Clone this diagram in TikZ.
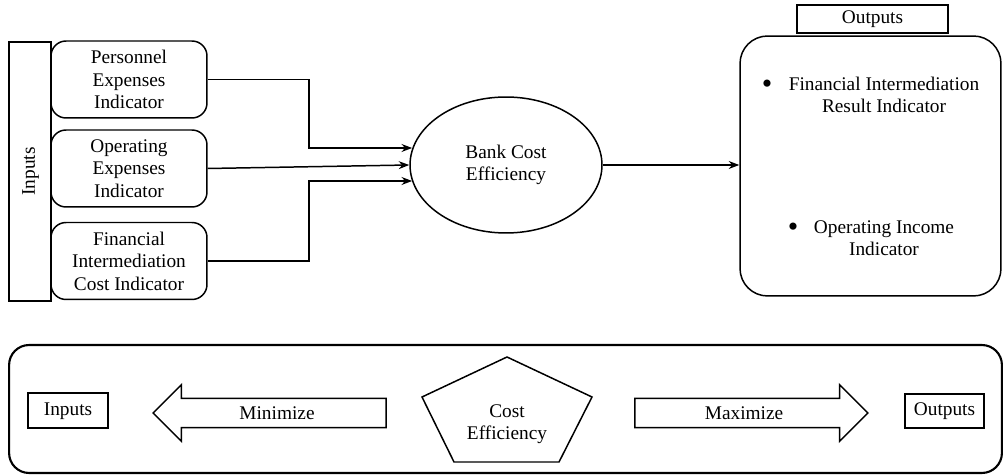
\documentclass[tikz,border=0pt]{standalone}
\usepackage{fontspec}
\setmainfont{Liberation Serif}
\usetikzlibrary{shapes.geometric,shapes.arrows,arrows.meta}
\begin{document}
\begin{tikzpicture}[x=0.02cm,y=-0.02cm,
  font=\fontsize{11}{12.8}\selectfont,
  line width=0.85pt,
  inbox/.style={draw, rounded corners=0.3cm, minimum width=3.12cm, minimum height=1.54cm, align=center, inner sep=0pt},
  plainbox/.style={draw, inner sep=0pt, text height=7.5pt, text depth=2pt},
  dot/.style={font=\fontsize{17}{17}\selectfont, inner sep=0pt},
  arr/.style={-{Stealth[length=6pt,width=4.5pt]}},
  bigarrow/.style={draw, single arrow, single arrow head extend=0.27cm, minimum width=1.1cm, minimum height=4.66cm,
    inner xsep=0pt, inner ysep=4.2pt, text height=7.5pt, text depth=0pt}]
  \useasboundingbox (0,0) rectangle (1003,475);
  % inputs bar and the three input boxes
  \node[plainbox, rotate=90, minimum width=5.18cm, minimum height=0.84cm] (inputs) at (30,171.5) {Inputs};
  \node[inbox] (pers) at (129,79.5) {Personnel\\Expenses\\Indicator};
  \node[inbox] (oper) at (129,168.5) {Operating\\Expenses\\Indicator};
  \node[inbox] (fin) at (129,261) {Financial\\Intermediation\\Cost Indicator};
  % central ellipse
  \node[draw, ellipse, minimum width=3.84cm, minimum height=2.72cm, align=center, inner sep=0pt] (bce) at (506,165) {Bank Cost\\Efficiency};
  % outputs box with its label on top
  \node[draw, rounded corners=0.55cm, minimum width=5.22cm, minimum height=5.2cm] (outbox) at (870.5,166) {};
  \node[plainbox, minimum width=3.02cm, minimum height=0.56cm] (outlabel) at (872.5,19) {Outputs};
  \node[dot] (bul1) at (767,87) {\textbullet};
  \node[align=center] (fir) at (884,95) {Financial Intermediation\\Result Indicator};
  \node[dot] (bul2) at (793,230) {\textbullet};
  \node[align=center] (oii) at (884,238) {Operating Income\\Indicator};
  % connectors into and out of the ellipse
  \coordinate (j1) at (309,148);
  \coordinate (j3) at (309,181);
  \draw[arr] (pers.east) -| (j1) -- (j1 -| bce.170);
  \draw[arr] (oper.east) -- (bce.west);
  \draw[arr] (fin.east) -| (j3) -- (j3 -| bce.190);
  \draw[arr] (bce.east) -- (bce.east -| outbox.west);
  % bottom panel
  \node[draw, line width=1.2pt, rounded corners=0.4cm, minimum width=19.86cm, minimum height=2.56cm] (panel) at (505.5,409) {};
  \node[plainbox, minimum width=1.6cm, minimum height=0.7cm] (inmin) at (68,410.5) {Inputs};
  \node[bigarrow, shape border rotate=180] (minarr) at (277,413) {Minimize};
  \draw (507,357) -- (592,397) -- (559,462) -- (454,462) -- (422,397) -- cycle;
  \node[align=center] (ce) at (507,424) {Cost\\Efficiency};
  \node[bigarrow] (maxarr) at (744,413) {Maximize};
  \node[plainbox, minimum width=1.58cm, minimum height=0.68cm] (outmax) at (944.5,411) {Outputs};
\end{tikzpicture}
\end{document}
